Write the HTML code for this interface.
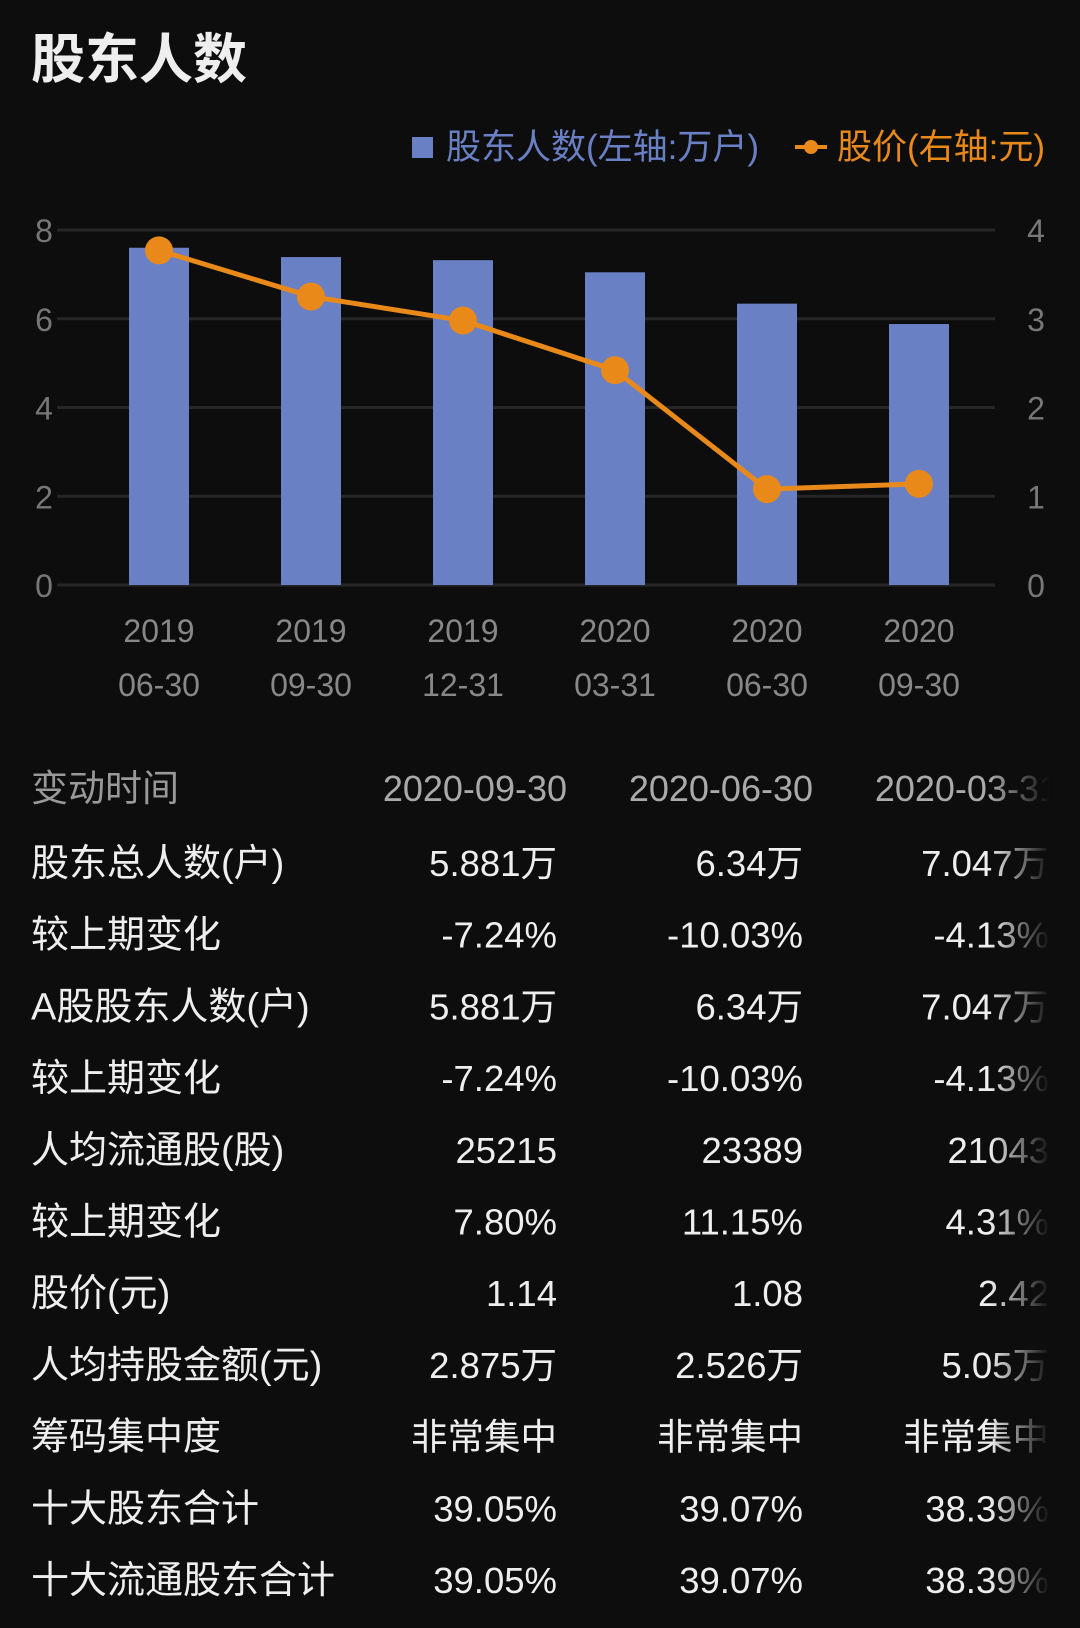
<!DOCTYPE html>
<html><head><meta charset="utf-8">
<style>
html,body{margin:0;padding:0;background:#0d0d0d;}
svg{display:block;font-family:"Liberation Sans","Noto Sans CJK SC",sans-serif;}
</style></head>
<body>
<svg id="page" width="1080" height="1628" viewBox="0 0 1080 1628" xmlns="http://www.w3.org/2000/svg">
<defs>
<linearGradient id="fade" x1="0" x2="1" y1="0" y2="0">
<stop offset="0" stop-color="#0d0d0d" stop-opacity="0"/>
<stop offset="1" stop-color="#0d0d0d" stop-opacity="1"/>
</linearGradient>
</defs>
<rect width="1080" height="1628" fill="#0d0d0d"/>
<text x="31" y="78" font-size="54" font-weight="bold" fill="#eeeeee">股东人数</text>
<g>
<rect x="412" y="137" width="21" height="21" fill="#6a80c4"/>
<text x="446" y="159" font-size="35" fill="#6a80c4">股东人数(左轴:万户)</text>
<line x1="795" y1="147" x2="827" y2="147" stroke="#e8891a" stroke-width="4"/>
<circle cx="811" cy="147" r="7" fill="#e8891a"/>
<text x="837" y="159" font-size="35" fill="#e8891a">股价(右轴:元)</text>
</g>
<g id="chart"></g>
<g id="table"></g>
<rect x="990" y="760" width="60" height="860" fill="url(#fade)"/>
<rect x="1050" y="760" width="30" height="860" fill="#0d0d0d"/>
</svg>
<script>
const categoriesYear = ["2019","2019","2019","2020","2020","2020"];
const categoriesDate = ["06-30","09-30","12-31","03-31","06-30","09-30"];
const holders = [7.6, 7.39, 7.32, 7.047, 6.34, 5.881];
const prices = [3.77, 3.25, 2.98, 2.42, 1.08, 1.14];
const leftTicks = [0, 2, 4, 6, 8];
const rightTicks = [0, 1, 2, 3, 4];

const NS = "http://www.w3.org/2000/svg";
const chart = document.getElementById('chart');
const plotL = 57, plotR = 995, yTop = 230, yBot = 585;
const yL = v => yBot - v / 8 * (yBot - yTop);
const yR = v => yBot - v / 4 * (yBot - yTop);
const step = 152;
const xC = i => 159 + i * step;
function mk(tag, attrs, parent) {
  const e = document.createElementNS(NS, tag);
  for (const k in attrs) e.setAttribute(k, attrs[k]);
  parent.appendChild(e);
  return e;
}
leftTicks.forEach((t, i) => {
  const g = mk('line', {x1: plotL, x2: plotR, y1: yL(t), y2: yL(t), stroke: '#262626', 'stroke-width': 3}, chart);
  
  
  const l = mk('text', {x: 44, y: yL(t) + 12, 'font-size': 32, fill: '#777', 'text-anchor': 'middle'}, chart);
  l.textContent = t;
  
  
});
rightTicks.forEach(t => {
  const l = mk('text', {x: 1036, y: yR(t) + 12, 'font-size': 32, fill: '#777', 'text-anchor': 'middle'}, chart);
  l.textContent = t;
  
  
});
holders.forEach((v, i) => {
  const b = mk('rect', {x: xC(i) - 30, y: yL(v), width: 60, height: yBot - yL(v), fill: '#6a80c4'}, chart);
  
  
  const a = mk('text', {x: xC(i), y: 642, 'font-size': 32, fill: '#888', 'text-anchor': 'middle'}, chart);
  a.textContent = categoriesYear[i];
  
  
  const d = mk('text', {x: xC(i), y: 696, 'font-size': 32, fill: '#888', 'text-anchor': 'middle'}, chart);
  d.textContent = categoriesDate[i];
  
  
});
const pl = mk('polyline', {points: prices.map((p, i) => xC(i) + ',' + yR(p)).join(' '), fill: 'none', stroke: '#e8891a', 'stroke-width': 5}, chart);


prices.forEach((p, i) => {
  const c = mk('circle', {cx: xC(i), cy: yR(p), r: 14, fill: '#e8891a'}, chart);
  
  
});

const colHeaders = ["2020-09-30", "2020-06-30", "2020-03-31"];
const rowLabels = ["股东总人数(户)","较上期变化","A股股东人数(户)","较上期变化","人均流通股(股)","较上期变化","股价(元)","人均持股金额(元)","筹码集中度","十大股东合计","十大流通股东合计"];
const col1 = ["5.881万","-7.24%","5.881万","-7.24%","25215","7.80%","1.14","2.875万","非常集中","39.05%","39.05%"];
const col2 = ["6.34万","-10.03%","6.34万","-10.03%","23389","11.15%","1.08","2.526万","非常集中","39.07%","39.07%"];
const col3 = ["7.047万","-4.13%","7.047万","-4.13%","21043","4.31%","2.42","5.05万","非常集中","38.39%","38.39%"];
const table = document.getElementById('table');
const colX = [557, 803, 1049];
const headX = [567, 813, 1059];
const h = mk('text', {x: 31, y: 801, 'font-size': 37, fill: '#999'}, table);
h.textContent = '变动时间';


colHeaders.forEach((c, j) => {
  const t = mk('text', {x: headX[j], y: 801, 'font-size': 36, fill: '#aaa', 'text-anchor': 'end'}, table);
  t.textContent = c;
  
  
});
const cols = [col1, col2, col3];
rowLabels.forEach((r, i) => {
  const y = 876 + i * 71.7;
  const t = mk('text', {x: 31, y: y, 'font-size': 38, fill: '#eee'}, table);
  t.textContent = r;
  
  
  cols.forEach((col, j) => {
    const v = mk('text', {x: colX[j], y: y, 'font-size': 36.5, fill: '#eee', 'text-anchor': 'end'}, table);
    v.textContent = col[i];
    
    
  });
});
</script>
</body></html>
